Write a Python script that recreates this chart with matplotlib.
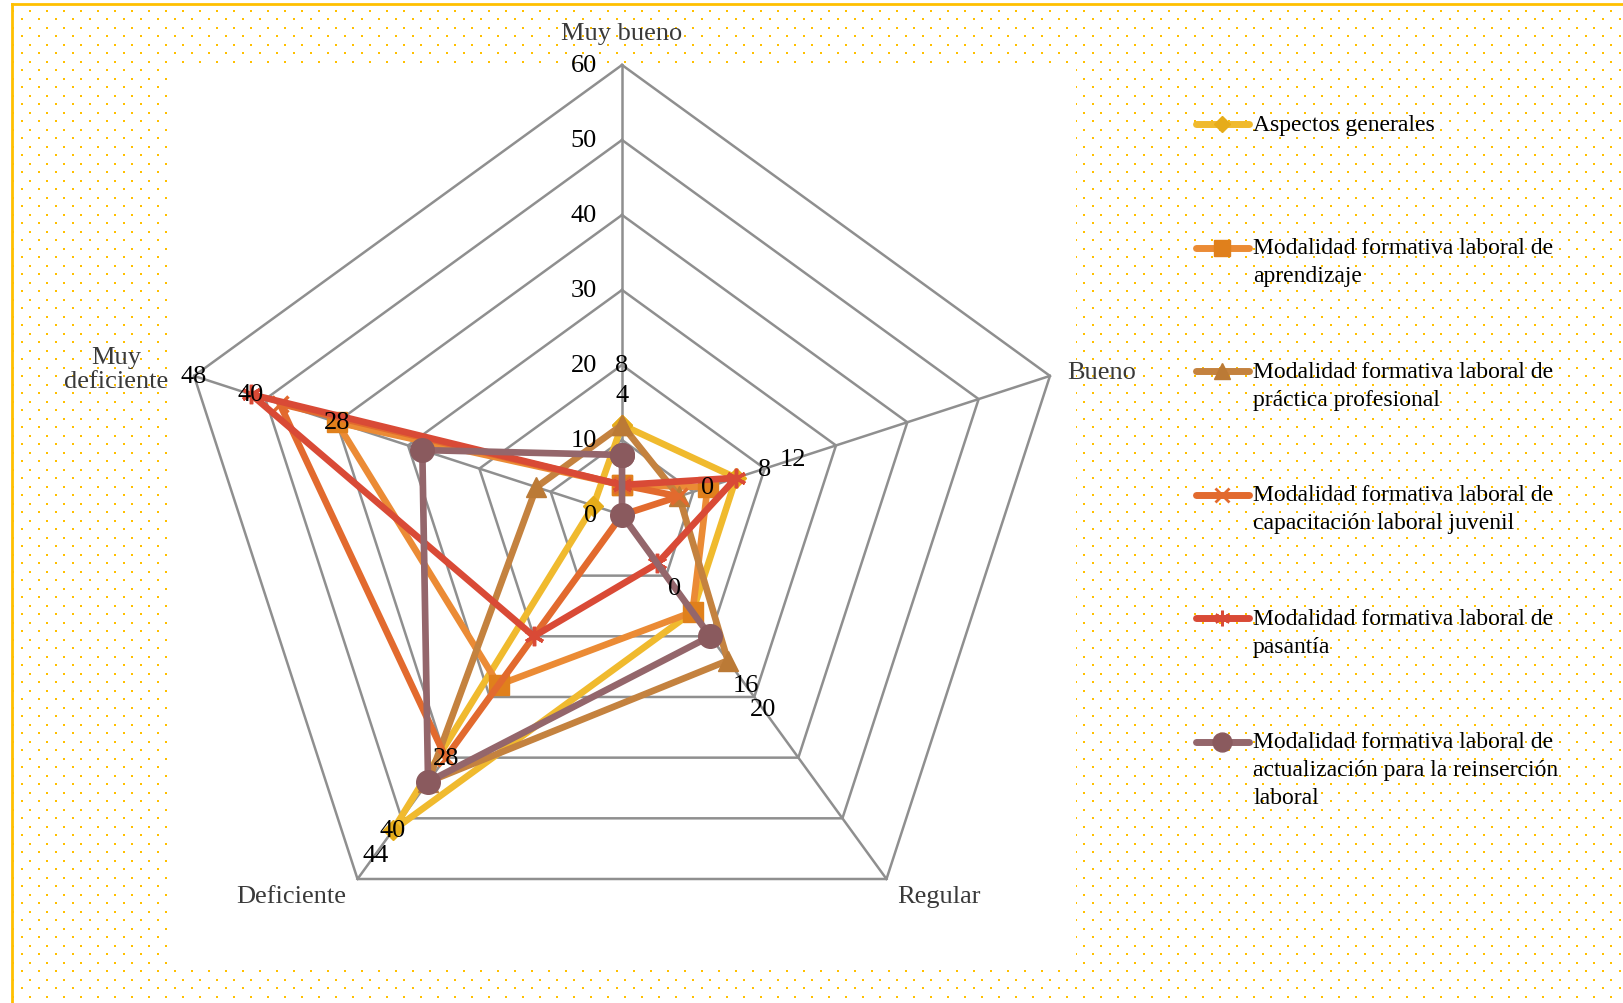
import numpy as np
import matplotlib.pyplot as plt

# --- datos ---
categories = ['Muy bueno', 'Bueno', 'Regular', 'Deficiente', 'Muy\ndeficiente']
series_names = [
    'Aspectos generales',
    'Modalidad formativa laboral de\naprendizaje',
    'Modalidad formativa laboral de\npráctica profesional',
    'Modalidad formativa laboral de\ncapacitación laboral juvenil',
    'Modalidad formativa laboral de\npasantía',
    'Modalidad formativa laboral de\nactualización para la reinserción\nlaboral',
]
aspectos = [12, 16, 16, 52, 4]
aprendizaje = [4, 12, 16, 28, 40]
practica = [12, 8, 24, 44, 12]
capacitacion = [4, 8, 0, 40, 48]
pasantia = [4, 16, 8, 20, 52]
actualizacion = [8, 0, 20, 44, 28]
r_ticks = [0, 10, 20, 30, 40, 50, 60]
# etiquetas de datos que aparecen en cada eje
data_labels = [[8, 4], [0, 8, 12], [0, 16, 20], [28, 40, 44], [48, 40, 28]]
LABEL_SHIFT = 12

# --- estilo ---
colors = ['#F0BA2E', '#EB8B35', '#C4823F', '#E26A2E', '#D94A36', '#94666B']
mcolors = ['#E6AC1A', '#E0801C', '#BB7A36', '#E26A2E', '#D94A36', '#8A5A5E']
markers = ['D', 's', '^', 'x', (6, 2, 0), 'o']
msizes = [10, 14, 14, 12, 14, 17]
SERIF = 'Liberation Serif'
GRID = '#8F8F8F'
DOT = '#FFC000'

W, H = 1623, 1004
fig = plt.figure(figsize=(W / 100, H / 100), dpi=100)

# fondo punteado amarillo
bg = fig.add_axes([0, 0, 1, 1])
bg.set_xlim(0, W)
bg.set_ylim(H, 0)
bg.axis('off')
gx, gy = np.meshgrid(np.arange(13.3, W, 17), np.arange(11.7, H, 17))
bg.scatter(gx.ravel(), gy.ravel(), s=4, marker='s', color=DOT, linewidths=0, zorder=1)
gx, gy = np.meshgrid(np.arange(22, W, 17), np.arange(20, H, 17))
bg.scatter(gx.ravel(), gy.ravel(), s=2, marker='s', color=DOT, linewidths=0, zorder=1)
bg.add_patch(plt.Rectangle((167, 66), 1076 - 167, 968 - 66, facecolor='white',
                           edgecolor='none', zorder=2))
bg.plot([12, W], [5, 5], color=DOT, lw=2, zorder=3)
bg.plot([12, 12], [5, H], color=DOT, lw=2, zorder=3)

# --- radar ---
ax = fig.add_axes([0.1060, 0.0379, 0.5545, 0.8964], projection='polar')
ax.set_theta_offset(np.pi / 2)
ax.set_theta_direction(-1)
ax.set_ylim(0, 60)
ax.axis('off')

theta = np.arange(len(categories)) * 2 * np.pi / len(categories)
tc = np.append(theta, theta[0])

for r in r_ticks[1:]:
    ax.plot(tc, [r] * len(tc), color=GRID, lw=1.8, zorder=1, clip_on=False)
for t in theta:
    ax.plot([t, t], [0, 60], color=GRID, lw=1.8, zorder=1, clip_on=False)

for r in r_ticks:
    ax.annotate(str(r), xy=(0, r), xytext=(-18, 0), textcoords='offset points',
                ha='right', va='center', fontsize=19, family=SERIF, zorder=20)

all_series = [aspectos, aprendizaje, practica, capacitacion, pasantia, actualizacion]
for i, vals in enumerate(all_series):
    vc = list(vals) + [vals[0]]
    ax.plot(tc, vc, color=colors[i], lw=4.8, marker=markers[i], ms=msizes[i],
            mfc=mcolors[i], mec=mcolors[i], mew=2.5 if i in (3, 4) else 1,
            solid_joinstyle='round', zorder=3 + i, clip_on=False)

for i, vals in enumerate(data_labels):
    for v in vals:
        ax.text(theta[i], v + LABEL_SHIFT, str(v), ha='center', va='center',
                fontsize=19, family=SERIF, color='black', zorder=20)

cat_offsets = [(0, 23), (37, 3), (38, -12), (-48, -12), (-56, 5)]
for i, name in enumerate(categories):
    ax.annotate(name, xy=(theta[i], 60), xytext=cat_offsets[i], textcoords='offset points',
                ha='center', va='center', fontsize=19, family=SERIF, color='#3A3A3A',
                linespacing=1.15, annotation_clip=False)

# --- leyenda ---
leg_y0, leg_step, line_gap = 125, 123.6, 28
for i, name in enumerate(series_names):
    y = leg_y0 + i * leg_step
    bg.plot([1196, 1249], [y, y], color=colors[i], lw=5, solid_capstyle='round', zorder=4)
    bg.plot([1222], [y], marker=markers[i], ms=msizes[i] * 0.8, color=mcolors[i],
            mew=2 if i in (3, 4) else 1, zorder=5)
    for j, line in enumerate(name.split('\n')):
        bg.text(1253, y + j * line_gap, line, ha='left', va='center', fontsize=17,
                family=SERIF, color='black', zorder=5)

fig.savefig('out.png', dpi=100)
